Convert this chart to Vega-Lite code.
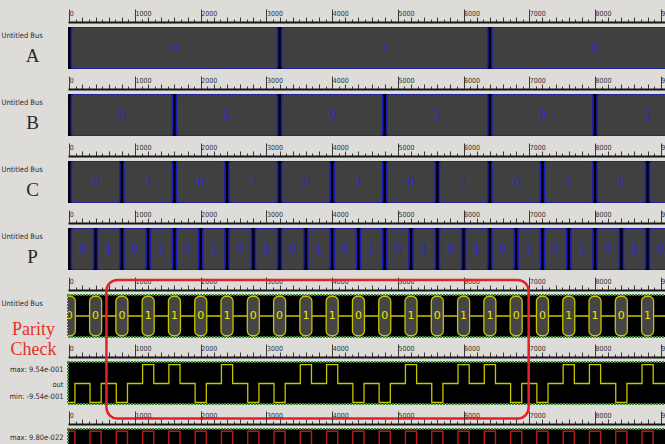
{
  "$schema": "https://vega.github.io/schema/vega-lite/v6.json",
  "background": "#dedcd8",
  "padding": {"left": 0, "top": 8, "right": 0, "bottom": 0},
  "autosize": {"type": "pad"},
  "spacing": 25,
  "bounds": "flush",
  "config": {"view": {"stroke": null}},
  "datasets": {
    "bus": [
      {"row": "A", "s": 0, "e": 3200, "v": "0"},
      {"row": "A", "s": 3200, "e": 6400, "v": "1"},
      {"row": "A", "s": 6400, "e": 9600, "v": "0"},
      {"row": "B", "s": 0, "e": 1600, "v": "0"},
      {"row": "B", "s": 1600, "e": 3200, "v": "1"},
      {"row": "B", "s": 3200, "e": 4800, "v": "0"},
      {"row": "B", "s": 4800, "e": 6400, "v": "1"},
      {"row": "B", "s": 6400, "e": 8000, "v": "0"},
      {"row": "B", "s": 8000, "e": 9600, "v": "1"},
      {"row": "C", "s": 0, "e": 800, "v": "0"},
      {"row": "C", "s": 800, "e": 1600, "v": "1"},
      {"row": "C", "s": 1600, "e": 2400, "v": "0"},
      {"row": "C", "s": 2400, "e": 3200, "v": "1"},
      {"row": "C", "s": 3200, "e": 4000, "v": "0"},
      {"row": "C", "s": 4000, "e": 4800, "v": "1"},
      {"row": "C", "s": 4800, "e": 5600, "v": "0"},
      {"row": "C", "s": 5600, "e": 6400, "v": "1"},
      {"row": "C", "s": 6400, "e": 7200, "v": "0"},
      {"row": "C", "s": 7200, "e": 8000, "v": "1"},
      {"row": "C", "s": 8000, "e": 8800, "v": "0"},
      {"row": "C", "s": 8800, "e": 9600, "v": "1"},
      {"row": "P", "s": 0, "e": 400, "v": "0"},
      {"row": "P", "s": 400, "e": 800, "v": "1"},
      {"row": "P", "s": 800, "e": 1200, "v": "0"},
      {"row": "P", "s": 1200, "e": 1600, "v": "1"},
      {"row": "P", "s": 1600, "e": 2000, "v": "0"},
      {"row": "P", "s": 2000, "e": 2400, "v": "1"},
      {"row": "P", "s": 2400, "e": 2800, "v": "0"},
      {"row": "P", "s": 2800, "e": 3200, "v": "1"},
      {"row": "P", "s": 3200, "e": 3600, "v": "0"},
      {"row": "P", "s": 3600, "e": 4000, "v": "1"},
      {"row": "P", "s": 4000, "e": 4400, "v": "0"},
      {"row": "P", "s": 4400, "e": 4800, "v": "1"},
      {"row": "P", "s": 4800, "e": 5200, "v": "0"},
      {"row": "P", "s": 5200, "e": 5600, "v": "1"},
      {"row": "P", "s": 5600, "e": 6000, "v": "0"},
      {"row": "P", "s": 6000, "e": 6400, "v": "1"},
      {"row": "P", "s": 6400, "e": 6800, "v": "0"},
      {"row": "P", "s": 6800, "e": 7200, "v": "1"},
      {"row": "P", "s": 7200, "e": 7600, "v": "0"},
      {"row": "P", "s": 7600, "e": 8000, "v": "1"},
      {"row": "P", "s": 8000, "e": 8400, "v": "0"},
      {"row": "P", "s": 8400, "e": 8800, "v": "1"},
      {"row": "P", "s": 8800, "e": 9200, "v": "0"},
      {"row": "P", "s": 9200, "e": 9600, "v": "1"}
    ],
    "par": [
      {"t": 0, "v": "0"}, {"t": 400, "v": "0"}, {"t": 800, "v": "0"}, {"t": 1200, "v": "1"},
      {"t": 1600, "v": "1"}, {"t": 2000, "v": "0"}, {"t": 2400, "v": "1"}, {"t": 2800, "v": "0"},
      {"t": 3200, "v": "0"}, {"t": 3600, "v": "1"}, {"t": 4000, "v": "1"}, {"t": 4400, "v": "0"},
      {"t": 4800, "v": "0"}, {"t": 5200, "v": "1"}, {"t": 5600, "v": "0"}, {"t": 6000, "v": "1"},
      {"t": 6400, "v": "1"}, {"t": 6800, "v": "0"}, {"t": 7200, "v": "0"}, {"t": 7600, "v": "1"},
      {"t": 8000, "v": "1"}, {"t": 8400, "v": "0"}, {"t": 8800, "v": "1"}
    ],
    "out": [
      {"t": -85, "y": -0.954}, {"t": 85, "y": 0},
      {"t": 315, "y": -0.954}, {"t": 485, "y": 0},
      {"t": 715, "y": -0.954}, {"t": 885, "y": 0},
      {"t": 1115, "y": 0.954}, {"t": 1285, "y": 0},
      {"t": 1515, "y": 0.954}, {"t": 1685, "y": 0},
      {"t": 1915, "y": -0.954}, {"t": 2085, "y": 0},
      {"t": 2315, "y": 0.954}, {"t": 2485, "y": 0},
      {"t": 2715, "y": -0.954}, {"t": 2885, "y": 0},
      {"t": 3115, "y": -0.954}, {"t": 3285, "y": 0},
      {"t": 3515, "y": 0.954}, {"t": 3685, "y": 0},
      {"t": 3915, "y": 0.954}, {"t": 4085, "y": 0},
      {"t": 4315, "y": -0.954}, {"t": 4485, "y": 0},
      {"t": 4715, "y": -0.954}, {"t": 4885, "y": 0},
      {"t": 5115, "y": 0.954}, {"t": 5285, "y": 0},
      {"t": 5515, "y": -0.954}, {"t": 5685, "y": 0},
      {"t": 5915, "y": 0.954}, {"t": 6085, "y": 0},
      {"t": 6315, "y": 0.954}, {"t": 6485, "y": 0},
      {"t": 6715, "y": -0.954}, {"t": 6885, "y": 0},
      {"t": 7115, "y": -0.954}, {"t": 7285, "y": 0},
      {"t": 7515, "y": 0.954}, {"t": 7685, "y": 0},
      {"t": 7915, "y": 0.954}, {"t": 8085, "y": 0},
      {"t": 8315, "y": -0.954}, {"t": 8485, "y": 0},
      {"t": 8715, "y": 0.954}, {"t": 8885, "y": 0},
      {"t": 9120, "y": 0}
    ],
    "clk": [
      {"t": -85, "y": 9.8e-22}, {"t": 85, "y": -9.8e-22},
      {"t": 315, "y": 9.8e-22}, {"t": 485, "y": -9.8e-22},
      {"t": 715, "y": 9.8e-22}, {"t": 885, "y": -9.8e-22},
      {"t": 1115, "y": 9.8e-22}, {"t": 1285, "y": -9.8e-22},
      {"t": 1515, "y": 9.8e-22}, {"t": 1685, "y": -9.8e-22},
      {"t": 1915, "y": 9.8e-22}, {"t": 2085, "y": -9.8e-22},
      {"t": 2315, "y": 9.8e-22}, {"t": 2485, "y": -9.8e-22},
      {"t": 2715, "y": 9.8e-22}, {"t": 2885, "y": -9.8e-22},
      {"t": 3115, "y": 9.8e-22}, {"t": 3285, "y": -9.8e-22},
      {"t": 3515, "y": 9.8e-22}, {"t": 3685, "y": -9.8e-22},
      {"t": 3915, "y": 9.8e-22}, {"t": 4085, "y": -9.8e-22},
      {"t": 4315, "y": 9.8e-22}, {"t": 4485, "y": -9.8e-22},
      {"t": 4715, "y": 9.8e-22}, {"t": 4885, "y": -9.8e-22},
      {"t": 5115, "y": 9.8e-22}, {"t": 5285, "y": -9.8e-22},
      {"t": 5515, "y": 9.8e-22}, {"t": 5685, "y": -9.8e-22},
      {"t": 5915, "y": 9.8e-22}, {"t": 6085, "y": -9.8e-22},
      {"t": 6315, "y": 9.8e-22}, {"t": 6485, "y": -9.8e-22},
      {"t": 6715, "y": 9.8e-22}, {"t": 6885, "y": -9.8e-22},
      {"t": 7115, "y": 9.8e-22}, {"t": 7285, "y": -9.8e-22},
      {"t": 7515, "y": 9.8e-22}, {"t": 7685, "y": -9.8e-22},
      {"t": 7915, "y": 9.8e-22}, {"t": 8085, "y": -9.8e-22},
      {"t": 8315, "y": 9.8e-22}, {"t": 8485, "y": -9.8e-22},
      {"t": 8715, "y": 9.8e-22}, {"t": 8885, "y": -9.8e-22},
      {"t": 9120, "y": -9.8e-22}
    ]
  },
  "vconcat": [
    {
      "width": 598, "height": 42,
      "view": {"fill": "#000000", "stroke": null},
      "data": {"name": "bus"},
      "transform": [{"filter": "datum.row === 'A'"}, {"calculate": "(datum.s + datum.e) / 2", "as": "mid"}],
      "layer": [
        {"mark": {"type": "rect", "clip": true, "fill": "#404040", "stroke": "#1c1cb8", "strokeWidth": 1.6, "cornerRadius": 3, "xOffset": 2, "x2Offset": -2},
         "encoding": {
           "x": {"field": "s", "type": "quantitative", "scale": {"domain": [-20, 9080], "nice": false, "zero": false},
             "axis": {"orient": "top", "offset": 5, "title": null, "grid": false, "tickCount": 91, "domainColor": "#161616", "domainWidth": 2, "tickColor": "#3a3a3a", "tickWidth": 1, "tickSize": {"condition": [{"test": "datum.value % 1000 === 0", "value": 13}, {"test": "datum.value % 200 === 0", "value": 5}], "value": 3}, "labelExpr": "datum.value % 1000 === 0 ? '' + datum.value : ''", "labelAlign": "left", "labelBaseline": "middle", "labelPadding": -4, "labelDx": 2, "labelFont": "DejaVu Sans Condensed", "labelFontSize": 7, "labelColor": "#333333", "labelOverlap": false, "labelBound": false, "labelFlush": false}},
           "x2": {"field": "e"}
         }},
        {"mark": {"type": "text", "clip": true, "color": "#2b2bd0", "font": "DejaVu Sans", "fontSize": 12},
         "encoding": {
           "x": {"field": "mid", "type": "quantitative"},
           "y": {"datum": 0.5, "type": "quantitative", "scale": {"domain": [0, 1]},
             "axis": {"orient": "left", "values": [0.79, 0.31], "title": null, "grid": false, "ticks": false, "tickSize": 0, "domain": false, "labelExpr": "datum.value > 0.5 ? 'Untitled Bus' : 'A'", "labelAlign": {"condition": {"test": "datum.value > 0.5", "value": "left"}, "value": "center"}, "labelPadding": {"condition": {"test": "datum.value > 0.5", "value": 67}, "value": 36}, "labelFont": {"condition": {"test": "datum.value > 0.5", "value": "DejaVu Sans Condensed"}, "value": "Liberation Serif"}, "labelFontSize": {"condition": {"test": "datum.value > 0.5", "value": 7.5}, "value": 19}, "labelColor": "#2a2a2a", "labelBaseline": "middle", "labelOverlap": false, "labelBound": false, "labelFlush": false}},
           "text": {"field": "v"}
         }}
      ]
    },
    {
      "width": 598, "height": 42,
      "view": {"fill": "#000000", "stroke": null},
      "data": {"name": "bus"},
      "transform": [{"filter": "datum.row === 'B'"}, {"calculate": "(datum.s + datum.e) / 2", "as": "mid"}],
      "layer": [
        {"mark": {"type": "rect", "clip": true, "fill": "#404040", "stroke": "#1c1cb8", "strokeWidth": 1.6, "cornerRadius": 3, "xOffset": 2, "x2Offset": -2},
         "encoding": {
           "x": {"field": "s", "type": "quantitative", "scale": {"domain": [-20, 9080], "nice": false, "zero": false},
             "axis": {"orient": "top", "offset": 5, "title": null, "grid": false, "tickCount": 91, "domainColor": "#161616", "domainWidth": 2, "tickColor": "#3a3a3a", "tickWidth": 1, "tickSize": {"condition": [{"test": "datum.value % 1000 === 0", "value": 13}, {"test": "datum.value % 200 === 0", "value": 5}], "value": 3}, "labelExpr": "datum.value % 1000 === 0 ? '' + datum.value : ''", "labelAlign": "left", "labelBaseline": "middle", "labelPadding": -4, "labelDx": 2, "labelFont": "DejaVu Sans Condensed", "labelFontSize": 7, "labelColor": "#333333", "labelOverlap": false, "labelBound": false, "labelFlush": false}},
           "x2": {"field": "e"}
         }},
        {"mark": {"type": "text", "clip": true, "color": "#2b2bd0", "font": "DejaVu Sans", "fontSize": 12},
         "encoding": {
           "x": {"field": "mid", "type": "quantitative"},
           "y": {"datum": 0.5, "type": "quantitative", "scale": {"domain": [0, 1]},
             "axis": {"orient": "left", "values": [0.79, 0.31], "title": null, "grid": false, "ticks": false, "tickSize": 0, "domain": false, "labelExpr": "datum.value > 0.5 ? 'Untitled Bus' : 'B'", "labelAlign": {"condition": {"test": "datum.value > 0.5", "value": "left"}, "value": "center"}, "labelPadding": {"condition": {"test": "datum.value > 0.5", "value": 67}, "value": 36}, "labelFont": {"condition": {"test": "datum.value > 0.5", "value": "DejaVu Sans Condensed"}, "value": "Liberation Serif"}, "labelFontSize": {"condition": {"test": "datum.value > 0.5", "value": 7.5}, "value": 19}, "labelColor": "#2a2a2a", "labelBaseline": "middle", "labelOverlap": false, "labelBound": false, "labelFlush": false}},
           "text": {"field": "v"}
         }}
      ]
    },
    {
      "width": 598, "height": 42,
      "view": {"fill": "#000000", "stroke": null},
      "data": {"name": "bus"},
      "transform": [{"filter": "datum.row === 'C'"}, {"calculate": "(datum.s + datum.e) / 2", "as": "mid"}],
      "layer": [
        {"mark": {"type": "rect", "clip": true, "fill": "#404040", "stroke": "#1c1cb8", "strokeWidth": 1.6, "cornerRadius": 3, "xOffset": 2, "x2Offset": -2},
         "encoding": {
           "x": {"field": "s", "type": "quantitative", "scale": {"domain": [-20, 9080], "nice": false, "zero": false},
             "axis": {"orient": "top", "offset": 5, "title": null, "grid": false, "tickCount": 91, "domainColor": "#161616", "domainWidth": 2, "tickColor": "#3a3a3a", "tickWidth": 1, "tickSize": {"condition": [{"test": "datum.value % 1000 === 0", "value": 13}, {"test": "datum.value % 200 === 0", "value": 5}], "value": 3}, "labelExpr": "datum.value % 1000 === 0 ? '' + datum.value : ''", "labelAlign": "left", "labelBaseline": "middle", "labelPadding": -4, "labelDx": 2, "labelFont": "DejaVu Sans Condensed", "labelFontSize": 7, "labelColor": "#333333", "labelOverlap": false, "labelBound": false, "labelFlush": false}},
           "x2": {"field": "e"}
         }},
        {"mark": {"type": "text", "clip": true, "color": "#2b2bd0", "font": "DejaVu Sans", "fontSize": 12},
         "encoding": {
           "x": {"field": "mid", "type": "quantitative"},
           "y": {"datum": 0.5, "type": "quantitative", "scale": {"domain": [0, 1]},
             "axis": {"orient": "left", "values": [0.79, 0.31], "title": null, "grid": false, "ticks": false, "tickSize": 0, "domain": false, "labelExpr": "datum.value > 0.5 ? 'Untitled Bus' : 'C'", "labelAlign": {"condition": {"test": "datum.value > 0.5", "value": "left"}, "value": "center"}, "labelPadding": {"condition": {"test": "datum.value > 0.5", "value": 67}, "value": 36}, "labelFont": {"condition": {"test": "datum.value > 0.5", "value": "DejaVu Sans Condensed"}, "value": "Liberation Serif"}, "labelFontSize": {"condition": {"test": "datum.value > 0.5", "value": 7.5}, "value": 19}, "labelColor": "#2a2a2a", "labelBaseline": "middle", "labelOverlap": false, "labelBound": false, "labelFlush": false}},
           "text": {"field": "v"}
         }}
      ]
    },
    {
      "width": 598, "height": 42,
      "view": {"fill": "#000000", "stroke": null},
      "data": {"name": "bus"},
      "transform": [{"filter": "datum.row === 'P'"}, {"calculate": "(datum.s + datum.e) / 2", "as": "mid"}],
      "layer": [
        {"mark": {"type": "rect", "clip": true, "fill": "#404040", "stroke": "#1c1cb8", "strokeWidth": 1.6, "cornerRadius": 3, "xOffset": 2, "x2Offset": -2},
         "encoding": {
           "x": {"field": "s", "type": "quantitative", "scale": {"domain": [-20, 9080], "nice": false, "zero": false},
             "axis": {"orient": "top", "offset": 5, "title": null, "grid": false, "tickCount": 91, "domainColor": "#161616", "domainWidth": 2, "tickColor": "#3a3a3a", "tickWidth": 1, "tickSize": {"condition": [{"test": "datum.value % 1000 === 0", "value": 13}, {"test": "datum.value % 200 === 0", "value": 5}], "value": 3}, "labelExpr": "datum.value % 1000 === 0 ? '' + datum.value : ''", "labelAlign": "left", "labelBaseline": "middle", "labelPadding": -4, "labelDx": 2, "labelFont": "DejaVu Sans Condensed", "labelFontSize": 7, "labelColor": "#333333", "labelOverlap": false, "labelBound": false, "labelFlush": false}},
           "x2": {"field": "e"}
         }},
        {"mark": {"type": "text", "clip": true, "color": "#2b2bd0", "font": "DejaVu Sans", "fontSize": 12},
         "encoding": {
           "x": {"field": "mid", "type": "quantitative"},
           "y": {"datum": 0.5, "type": "quantitative", "scale": {"domain": [0, 1]},
             "axis": {"orient": "left", "values": [0.79, 0.31], "title": null, "grid": false, "ticks": false, "tickSize": 0, "domain": false, "labelExpr": "datum.value > 0.5 ? 'Untitled Bus' : 'P'", "labelAlign": {"condition": {"test": "datum.value > 0.5", "value": "left"}, "value": "center"}, "labelPadding": {"condition": {"test": "datum.value > 0.5", "value": 67}, "value": 36}, "labelFont": {"condition": {"test": "datum.value > 0.5", "value": "DejaVu Sans Condensed"}, "value": "Liberation Serif"}, "labelFontSize": {"condition": {"test": "datum.value > 0.5", "value": 7.5}, "value": 19}, "labelColor": "#2a2a2a", "labelBaseline": "middle", "labelOverlap": false, "labelBound": false, "labelFlush": false}},
           "text": {"field": "v"}
         }}
      ]
    },
    {
      "width": 598, "height": 42,
      "view": {"fill": "#000000", "stroke": "#2e8b2e", "strokeWidth": 2, "strokeDash": [2, 1]},
      "layer": [
        {"data": {"values": [{"level": "mid"}]},
         "mark": {"type": "rule", "color": "#c8c400", "strokeWidth": 1.3},
         "encoding": {"y": {"datum": 0.5, "type": "quantitative", "scale": {"domain": [0, 1]}}}},
        {"data": {"name": "par"},
         "mark": {"type": "rect", "clip": true, "fill": "#454545", "stroke": "#c8c400", "strokeWidth": 1.3, "cornerRadius": 5, "xOffset": -6, "x2Offset": 6},
         "encoding": {
           "x": {"field": "t", "type": "quantitative", "scale": {"domain": [-20, 9080], "nice": false, "zero": false},
             "axis": {"orient": "top", "offset": 5, "title": null, "grid": false, "tickCount": 91, "domainColor": "#161616", "domainWidth": 2, "tickColor": "#3a3a3a", "tickWidth": 1, "tickSize": {"condition": [{"test": "datum.value % 1000 === 0", "value": 13}, {"test": "datum.value % 200 === 0", "value": 5}], "value": 3}, "labelExpr": "datum.value % 1000 === 0 ? '' + datum.value : ''", "labelAlign": "left", "labelBaseline": "middle", "labelPadding": -4, "labelDx": 2, "labelFont": "DejaVu Sans Condensed", "labelFontSize": 7, "labelColor": "#333333", "labelOverlap": false, "labelBound": false, "labelFlush": false}},
           "x2": {"field": "t"},
           "y": {"datum": 0.97, "type": "quantitative"},
           "y2": {"datum": 0.03}
         }},
        {"data": {"name": "par"},
         "mark": {"type": "text", "clip": true, "color": "#e6e600", "font": "DejaVu Sans", "fontSize": 11},
         "encoding": {
           "x": {"field": "t", "type": "quantitative"},
           "y": {"datum": 0.5, "type": "quantitative",
             "axis": {"orient": "left", "values": [0.79, 0.19], "title": null, "grid": false, "ticks": false, "tickSize": 0, "domain": false, "labelExpr": "datum.value > 0.5 ? 'Untitled Bus' : ['Parity', 'Check']", "labelAlign": {"condition": {"test": "datum.value > 0.5", "value": "left"}, "value": "center"}, "labelPadding": {"condition": {"test": "datum.value > 0.5", "value": 67}, "value": 35}, "labelFont": {"condition": {"test": "datum.value > 0.5", "value": "DejaVu Sans Condensed"}, "value": "Liberation Serif"}, "labelFontSize": {"condition": {"test": "datum.value > 0.5", "value": 7.5}, "value": 18}, "labelColor": {"condition": {"test": "datum.value > 0.5", "value": "#2a2a2a"}, "value": "#e8302c"}, "labelLineHeight": 20, "labelBaseline": "middle", "labelOverlap": false, "labelBound": false, "labelFlush": false}},
           "text": {"field": "v"}
         }}
      ]
    },
    {
      "width": 598, "height": 42,
      "view": {"fill": "#000000", "stroke": "#2e8b2e", "strokeWidth": 2, "strokeDash": [2, 1]},
      "layer": [
        {"data": {"name": "out"},
         "mark": {"type": "line", "clip": true, "interpolate": "step-after", "color": "#c8c400", "strokeWidth": 1.3},
         "encoding": {
           "x": {"field": "t", "type": "quantitative", "scale": {"domain": [-20, 9080], "nice": false, "zero": false},
             "axis": {"orient": "top", "offset": 5, "title": null, "grid": false, "tickCount": 91, "domainColor": "#161616", "domainWidth": 2, "tickColor": "#3a3a3a", "tickWidth": 1, "tickSize": {"condition": [{"test": "datum.value % 1000 === 0", "value": 13}, {"test": "datum.value % 200 === 0", "value": 5}], "value": 3}, "labelExpr": "datum.value % 1000 === 0 ? '' + datum.value : ''", "labelAlign": "left", "labelBaseline": "middle", "labelPadding": -4, "labelDx": 2, "labelFont": "DejaVu Sans Condensed", "labelFontSize": 7, "labelColor": "#333333", "labelOverlap": false, "labelBound": false, "labelFlush": false}},
           "y": {"field": "y", "type": "quantitative", "scale": {"domain": [-1.04, 1.09], "nice": false, "zero": false},
             "axis": {"orient": "left", "values": [0.735, -0.67], "title": "out", "titleAngle": 0, "titleAlign": "right", "titleBaseline": "middle", "titleX": -5, "titleY": 22, "titleFont": "DejaVu Sans Condensed", "titleFontSize": 7.5, "titleFontWeight": "normal", "titleColor": "#2a2a2a", "grid": false, "ticks": false, "tickSize": 0, "domain": false, "labelExpr": "datum.value > 0 ? 'max: 9.54e-001' : 'min: -9.54e-001'", "labelAlign": "right", "labelPadding": 5, "labelFont": "DejaVu Sans Condensed", "labelFontSize": 7.5, "labelColor": "#2a2a2a", "labelBaseline": "middle", "labelOverlap": false, "labelBound": false, "labelFlush": false}}
         }},
        {"data": {"values": [{"t0": 565, "t1": 6990, "note": "parity check window"}]},
         "mark": {"type": "rect", "fill": "#ffffff", "fillOpacity": 0, "stroke": "#e8202a", "strokeWidth": 2.5, "cornerRadius": 11},
         "encoding": {
           "x": {"field": "t0", "type": "quantitative"},
           "x2": {"field": "t1"},
           "y": {"datum": 5.25, "type": "quantitative"},
           "y2": {"datum": -1.78}
         }}
      ]
    },
    {
      "width": 598, "height": 42,
      "view": {"fill": "#000000", "stroke": "#2e8b2e", "strokeWidth": 2, "strokeDash": [2, 1]},
      "data": {"name": "clk"},
      "mark": {"type": "line", "clip": true, "interpolate": "step-after", "color": "#b81818", "strokeWidth": 1.5},
      "encoding": {
        "x": {"field": "t", "type": "quantitative", "scale": {"domain": [-20, 9080], "nice": false, "zero": false},
          "axis": {"orient": "top", "offset": 5, "title": null, "grid": false, "tickCount": 91, "domainColor": "#161616", "domainWidth": 2, "tickColor": "#3a3a3a", "tickWidth": 1, "tickSize": {"condition": [{"test": "datum.value % 1000 === 0", "value": 13}, {"test": "datum.value % 200 === 0", "value": 5}], "value": 3}, "labelExpr": "datum.value % 1000 === 0 ? '' + datum.value : ''", "labelAlign": "left", "labelBaseline": "middle", "labelPadding": -4, "labelDx": 2, "labelFont": "DejaVu Sans Condensed", "labelFontSize": 7, "labelColor": "#333333", "labelOverlap": false, "labelBound": false, "labelFlush": false}},
        "y": {"field": "y", "type": "quantitative", "scale": {"domain": [-1.1e-21, 1.1e-21], "nice": false, "zero": false},
          "axis": {"orient": "left", "values": [6.8e-22], "title": null, "grid": false, "ticks": false, "tickSize": 0, "domain": false, "labelExpr": "'max: 9.80e-022'", "labelAlign": "right", "labelPadding": 5, "labelFont": "DejaVu Sans Condensed", "labelFontSize": 7.5, "labelColor": "#2a2a2a", "labelBaseline": "middle", "labelOverlap": false, "labelBound": false, "labelFlush": false}}
      }
    }
  ]
}
